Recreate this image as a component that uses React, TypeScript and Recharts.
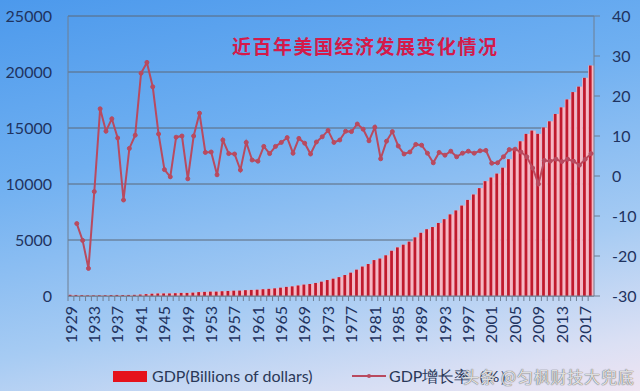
import React from 'react';
import { ComposedChart, Bar, Line, XAxis, YAxis, CartesianGrid, Legend } from 'recharts';

const years = [
  '1929','1930','1931','1932','1933','1934','1935','1936','1937','1938',
  '1939','1940','1941','1942','1943','1944','1945','1946','1947','1948',
  '1949','1950','1951','1952','1953','1954','1955','1956','1957','1958',
  '1959','1960','1961','1962','1963','1964','1965','1966','1967','1968',
  '1969','1970','1971','1972','1973','1974','1975','1976','1977','1978',
  '1979','1980','1981','1982','1983','1984','1985','1986','1987','1988',
  '1989','1990','1991','1992','1993','1994','1995','1996','1997','1998',
  '1999','2000','2001','2002','2003','2004','2005','2006','2007','2008',
  '2009','2010','2011','2012','2013','2014','2015','2016','2017','2018',
];

// GDP, billions of dollars
const gdp = [
  104.6, 92.2, 77.4, 59.5, 57.2, 66.8, 74.3, 84.9, 93.0, 87.4,
  93.4, 102.9, 129.3, 166.0, 203.1, 224.4, 228.0, 227.5, 249.6, 274.5,
  272.5, 299.8, 346.9, 367.3, 389.2, 390.5, 425.5, 449.4, 474.0, 481.2,
  521.7, 542.4, 562.2, 603.9, 637.5, 684.5, 742.3, 813.4, 860.0, 940.7,
  1017.6, 1073.3, 1164.9, 1279.1, 1425.4, 1545.2, 1684.9, 1873.4, 2081.8, 2351.6,
  2627.3, 2857.3, 3207.0, 3343.8, 3634.0, 4037.6, 4339.0, 4579.6, 4855.2, 5236.4,
  5641.6, 5963.1, 6158.1, 6520.3, 6858.6, 7287.2, 7639.7, 8073.1, 8577.6, 9062.8,
  9631.2, 10251.0, 10581.9, 10929.1, 11456.5, 12217.2, 13039.2, 13815.6, 14474.2, 14769.9,
  14478.1, 15049.0, 15599.7, 16254.0, 16843.2, 17550.7, 18206.0, 18695.1, 19479.6, 20580.2,
];

// GDP growth rate, %
const growth: (number | null)[] = [
  null, -11.9, -16.1, -23.1, -3.9, 16.8, 11.2, 14.3, 9.5, -6.0,
  6.9, 10.2, 25.7, 28.4, 22.3, 10.5, 1.6, -0.2, 9.7, 10.0,
  -0.7, 10.0, 15.7, 5.9, 6.0, 0.3, 9.0, 5.6, 5.5, 1.5,
  8.4, 4.0, 3.7, 7.4, 5.6, 7.4, 8.4, 9.6, 5.7, 9.4,
  8.2, 5.5, 8.5, 9.8, 11.4, 8.4, 9.0, 11.2, 11.1, 13.0,
  11.7, 8.8, 12.2, 4.3, 8.7, 11.1, 7.5, 5.5, 6.0, 7.9,
  7.7, 5.7, 3.3, 5.9, 5.2, 6.2, 4.8, 5.7, 6.2, 5.7,
  6.3, 6.4, 3.2, 3.3, 4.8, 6.6, 6.7, 6.0, 4.8, 2.0,
  -2.0, 3.9, 3.7, 4.2, 3.6, 4.2, 3.7, 2.7, 4.2, 5.6,
];

const gdpTicks = [0, 5000, 10000, 15000, 20000, 25000];
const growthTicks = [-30, -20, -10, 0, 10, 20, 30, 40];

const title = '近百年美国经济发展变化情况';
const gdpName = 'GDP(Billions of dollars)';
const growthName = 'GDP增长率（%）';
const watermark = '头条 @匀枫财技大兜底';

const data = years.map((year, i) => ({ year, gdp: gdp[i], growth: growth[i] }));

const TICK_COLOR = '#1f3360';
const LINE_COLOR = '#b94a5f';
const FONT = 'Lato, "Noto Sans", sans-serif';

const BarShape = (p: any) => {
  const { x, y, width, height } = p;
  if (!height || height <= 0) return <g />;
  return (
    <g>
      <rect x={x} y={y} width={width} height={height} fill="#f6b7c3" />
      <rect x={x + width * 0.12} y={y} width={width * 0.46} height={height} fill="#c01a2d" />
    </g>
  );
};

const XTick = (p: any) => {
  const { x, y, payload } = p;
  const idx = payload?.index ?? p.index ?? 0;
  const bw = 526 / years.length;
  return (
    <g>
      <line x1={x - bw / 2} x2={x - bw / 2} y1={y} y2={y + 5} stroke="#6f7f92" strokeWidth={1} />
      {idx % 4 === 0 && (
        <text
          x={x}
          y={y + 10}
          transform={`rotate(-90, ${x}, ${y + 10})`}
          textAnchor="end"
          dy="0.36em"
          fill={TICK_COLOR}
          fontSize={16}
          fontFamily={FONT}
        >
          {payload.value}
        </text>
      )}
    </g>
  );
};

const LegendContent = () => (
  <div style={{ position: 'relative', height: 45, width: 640, fontFamily: FONT, fontSize: 16, color: '#2a3858' }}>
    <div style={{ position: 'absolute', left: 113, top: 25, width: 34, height: 11, background: '#e5121c' }} />
    <div style={{ position: 'absolute', left: 152, top: 19, lineHeight: '22px', whiteSpace: 'nowrap' }}>{gdpName}</div>
    <svg style={{ position: 'absolute', left: 352, top: 25 }} width={34} height={10}>
      <line x1={0} x2={34} y1={5} y2={5} stroke={LINE_COLOR} strokeWidth={2} />
      <circle cx={17} cy={5} r={2} fill={LINE_COLOR} />
    </svg>
    <div style={{ position: 'absolute', left: 389, top: 19, lineHeight: '22px', whiteSpace: 'nowrap' }}>{growthName}</div>
  </div>
);

export default function App() {
  return (
    <div
      style={{
        position: 'absolute',
        left: 0,
        top: 0,
        width: 640,
        height: 391,
        overflow: 'hidden',
        background: 'linear-gradient(168deg, #4c99ec 0%, #70b0f1 35%, #a6cbf3 68%, #dbe0f4 90%, #efe4f2 100%)',
      }}
    >
      <ComposedChart
        width={640}
        height={391}
        data={data}
        margin={{ top: 16, right: 0, bottom: 0, left: 0 }}
        barCategoryGap={0}
        barGap={0}
      >
        <CartesianGrid yAxisId="left" vertical={false} stroke="#5d6878" strokeWidth={1} />
        <XAxis
          dataKey="year"
          interval={0}
          height={50}
          tickSize={0}
          tickMargin={0}
          tick={<XTick />}
          axisLine={{ stroke: '#6f7f92' }}
          tickLine={false}
        />
        <YAxis
          yAxisId="left"
          width={68}
          domain={[0, 25000]}
          ticks={gdpTicks}
          tickSize={0}
          tickMargin={16}
          tickLine={false}
          axisLine={{ stroke: '#6f7f92' }}
          tick={{ fill: TICK_COLOR, fontSize: 16, fontFamily: FONT }}
        />
        <YAxis
          yAxisId="right"
          orientation="right"
          width={46}
          domain={[-30, 40]}
          ticks={growthTicks}
          tickSize={6}
          tickMargin={12}
          axisLine={{ stroke: '#6f7f92' }}
          tickLine={{ stroke: '#6f7f92' }}
          tick={{ fill: TICK_COLOR, fontSize: 16, fontFamily: FONT }}
        />
        <Legend verticalAlign="bottom" content={<LegendContent />} wrapperStyle={{ left: 0, width: 640 }} />
        <Bar yAxisId="left" dataKey="gdp" name={gdpName} shape={<BarShape />} isAnimationActive={false} />
        <Line
          yAxisId="right"
          dataKey="growth"
          name={growthName}
          stroke={LINE_COLOR}
          strokeWidth={2}
          dot={{ r: 2, fill: LINE_COLOR, stroke: LINE_COLOR, strokeWidth: 1 }}
          activeDot={false}
          isAnimationActive={false}
        />
      </ComposedChart>
      <div
        style={{
          position: 'absolute',
          left: 463,
          top: 364,
          lineHeight: '24px',
          fontFamily: '"Noto Sans CJK SC", sans-serif',
          fontSize: 16,
          letterSpacing: 0.8,
          color: 'rgba(255,255,255,0.8)',
          textShadow: '0 0 1px #666, 0 0 1px #666',
          whiteSpace: 'nowrap',
        }}
      >
        {watermark}
      </div>
      <div
        style={{
          position: 'absolute',
          left: 232,
          top: 32,
          fontFamily: '"Noto Sans CJK SC", serif',
          fontSize: 19,
          letterSpacing: 1.5,
          color: '#d51a4a',
          fontWeight: 700,
          whiteSpace: 'nowrap',
        }}
      >
        {title}
      </div>
    </div>
  );
}
